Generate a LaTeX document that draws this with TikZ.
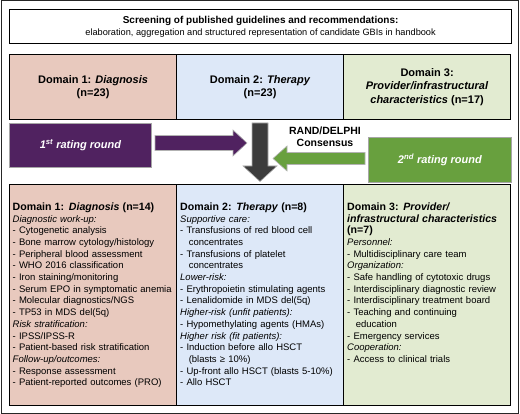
\documentclass[tikz,border=0pt]{standalone}
\usepackage{fontspec}
\setmainfont{Liberation Sans}
\definecolor{pinkc}{RGB}{232,201,190}
\definecolor{bluec}{RGB}{221,232,248}
\definecolor{greenc}{RGB}{226,235,209}
\definecolor{purplec}{RGB}{80,34,96}
\definecolor{greenarr}{RGB}{104,160,62}
\definecolor{darkarr}{RGB}{60,60,60}
\tikzset{
  domtop/.style={draw=black, line width=1.2pt, minimum width=167pt, minimum height=65pt,
    anchor=north west, inner sep=0pt, align=center,
    font=\bfseries\fontsize{11}{12.5}\selectfont},
  dombox/.style={draw=black, line width=1.2pt, minimum width=167pt, minimum height=221pt,
    anchor=north west, inner sep=0pt},
  listtext/.style={anchor=north west, inner sep=0pt, align=left, text width=165pt,
    font=\fontsize{9.5}{11.7}\selectfont},
  roundbox/.style={draw=gray!70, line width=0.8pt, anchor=north west, inner sep=0pt,
    text=white, font=\bfseries\itshape\fontsize{11}{13}\selectfont},
  blockarrow/.style={draw=gray!60, line width=0.6pt}
}
\newcommand{\ind}{\hspace*{0.9em}}
\newcommand{\hd}[1]{{\bfseries\fontsize{10.6}{11.7}\selectfont #1}}
\begin{document}
\begin{tikzpicture}[x=1pt,y=-1pt]
\useasboundingbox (0,0) rectangle (520,414);
\draw[line width=1pt, draw=black!85] (1,1) rectangle (518,413);
% top box
\node[draw, line width=1.2pt, minimum width=502pt, minimum height=34pt, anchor=north west,
  inner sep=0pt, align=center] (top) at (9,9)
  {{\bfseries\fontsize{10}{12}\selectfont Screening of published guidelines and recommendations:}\\[0pt]
   {\fontsize{9.2}{11.5}\selectfont elaboration, aggregation and structured representation of candidate GBIs in handbook}};
% top domain row
\node[domtop, fill=pinkc] (d1) at (9,54) {Domain 1: \textit{Diagnosis}\\(n=23)};
\node[domtop, fill=bluec] (d2) at (176,54) {Domain 2: \textit{Therapy}\\(n=23)};
\node[domtop, fill=greenc, font=\bfseries\fontsize{11}{13.5}\selectfont] (d3) at (343,54)
  {Domain 3:\\\textit{Provider/infrastructural}\\\textit{characteristics} (n=17)};
% rating rounds
\node[roundbox, fill=purplec, minimum width=142pt, minimum height=44pt] (r1) at (9,123)
  {1\textsuperscript{st} rating round};
\node[roundbox, fill=greenarr, minimum width=143pt, minimum height=45pt] (r2) at (368,137)
  {2\textsuperscript{nd} rating round};
\node[align=center, inner sep=0pt, font=\bfseries\fontsize{10.5}{11.5}\selectfont] (rd) at (325,136.5)
  {RAND/DELPHI\\Consensus};
% block arrows
\filldraw[blockarrow, fill=purplec] (155,135.5) -- (233,135.5) -- (233,130) -- (247,143)
  -- (233,156) -- (233,150.5) -- (155,150.5) -- cycle;
\filldraw[blockarrow, fill=greenarr] (365,152.5) -- (287,152.5) -- (287,146) -- (273,158.5)
  -- (287,171) -- (287,164.5) -- (365,164.5) -- cycle;
\filldraw[blockarrow, fill=darkarr] (252,123) -- (268,123) -- (268,166) -- (277,166)
  -- (260,181.5) -- (243,166) -- (252,166) -- cycle;
% bottom domain row
\node[dombox, fill=pinkc] (b1) at (9,184) {};
\node[dombox, fill=bluec] (b2) at (176,184) {};
\node[dombox, fill=greenc] (b3) at (343,184) {};
\node[listtext] (t1) at ([xshift=3.5pt,yshift=-18.5pt]b1.north west)
  {\hd{Domain 1: \textit{Diagnosis} (n=14)}\\
   \textit{Diagnostic work-up:}\\
   - Cytogenetic analysis\\
   - Bone marrow cytology/histology\\
   - Peripheral blood assessment\\
   - WHO 2016 classification\\
   - Iron staining/monitoring\\
   - Serum EPO in symptomatic anemia\\
   - Molecular diagnostics/NGS\\
   - TP53 in MDS del(5q)\\
   \textit{Risk stratification:}\\
   - IPSS/IPSS-R\\
   - Patient-based risk stratification\\
   \textit{Follow-up/outcomes:}\\
   - Response assessment\\
   - Patient-reported outcomes (PRO)};
\node[listtext] (t2) at ([xshift=4pt,yshift=-18.5pt]b2.north west)
  {\hd{Domain 2: \textit{Therapy} (n=8)}\\
   \textit{Supportive care:}\\
   - Transfusions of red blood cell\\
   \ind concentrates\\
   - Transfusions of platelet\\
   \ind concentrates\\
   \textit{Lower-risk:}\\
   - Erythropoietin stimulating agents\\
   - Lenalidomide in MDS del(5q)\\
   \textit{Higher-risk (unfit patients):}\\
   - Hypomethylating agents (HMAs)\\
   \textit{Higher risk (fit patients):}\\
   - Induction before allo HSCT\\
   \ind (blasts ≥ 10\%)\\
   - Up-front allo HSCT (blasts 5-10\%)\\
   - Allo HSCT};
\node[listtext] (t3) at ([xshift=4pt,yshift=-18.5pt]b3.north west)
  {\hd{Domain 3: \textit{Provider/}}\\
   \hd{\textit{infrastructural characteristics}}\\
   \hd{(n=7)}\\
   \textit{Personnel:}\\
   - Multidisciplinary care team\\
   \textit{Organization:}\\
   - Safe handling of cytotoxic drugs\\
   - Interdisciplinary diagnostic review\\
   - Interdisciplinary treatment board\\
   - Teaching and continuing\\
   \ind education\\
   - Emergency services\\
   \textit{Cooperation:}\\
   - Access to clinical trials};
\end{tikzpicture}
\end{document}
